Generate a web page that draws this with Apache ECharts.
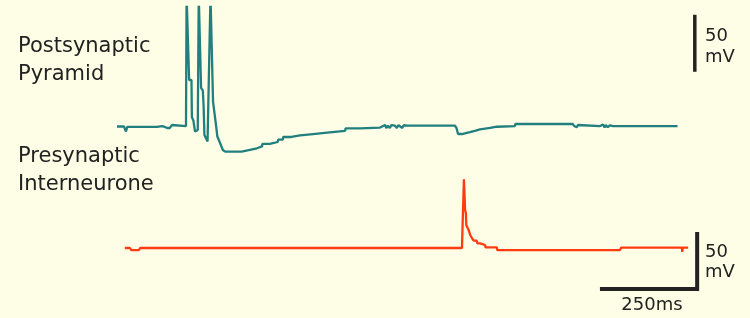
<!DOCTYPE html>
<html>
<head>
<meta charset="utf-8">
<script src="https://cdn.jsdelivr.net/npm/echarts@6/dist/echarts.min.js"></script>
<style>
  html, body { margin: 0; padding: 0; background: #fefee6; }
  #chart { width: 750px; height: 318px; }
</style>
</head>
<body>
<div id="chart"></div>
<script>
const pyramidTrace = [
  [0, -65], [18, -65], [20, -67.2], [23, -69.4], [26, -65.4], [102, -65.4], [103, -64.6],
  [115, -64.6], [117, -66.3], [120, -63.7], [122, -65.4], [125, -63.7], [128, -66.3],
  [130, -64.6], [135, -66.3], [140, -63.7], [143, -64.6], [176, -64.6],
  // three action potentials (clipped at the top)
  [177.5, 50], [182, 50], [184, -24.2], [190, -24.2], [191, -56.7], [195, -60], [199, -69.4],
  [202, -70.7], [204, -70.7], [206, -68.1],
  [208.5, 50], [213, 50], [214.5, -31.2], [219, -33.6], [221, -47.9], [223, -72.5],
  [231, -78.2], [236, -77.7],
  [238.5, 50], [243.5, 50], [245, -43.1], [250, -43.5], [253, -65], [256, -73.8],
  [260, -73.8], [263, -79.5], [267, -79.5], [270, -85.6], [274, -85.6], [276, -87.1],
  [318, -87.1], [319, -85.6], [339, -85.6], [340, -84.1], [357, -84.1], [358, -82.5],
  [370, -82.5], [371, -80.3], [390, -80.3], [391, -78.6], [410, -78.6], [411, -76.5],
  [423, -76.5], [424, -74.2], [445, -74.2], [446, -72.8], [467, -72.8], [468, -71.6],
  [500, -71.6], [501, -70.4], [536, -70.4], [537, -68.9], [582, -68.9], [583, -66.6],
  [620, -66.6], [621, -65.9], [671, -65.9], [672, -65.2],
  [684, -63.7], [687, -66.3], [691, -64.3], [696, -66.3], [700, -63.7], [709, -64.3],
  [714, -66.3], [718, -63.7], [722, -64.3], [727, -66.3], [732, -63.9], [740, -64.3],
  [862, -64.3], [866, -66.3], [870, -71.6], [880, -71.6], [882, -70.0], [900, -70.0],
  [901, -68.9], [913, -68.9], [914, -67.5], [926, -67.5], [927, -66.3], [952, -66.3],
  [953, -65.2], [969, -65.2], [970, -64.6], [1015, -64.6], [1016, -62.8],
  [1163, -62.8], [1166, -64.6], [1170, -63.2], [1173, -65.6], [1176, -63.7], [1181, -64.6],
  [1232, -64.6], [1236, -66.0], [1240, -63.4], [1244, -65.8], [1247, -63.6], [1252, -65.6],
  [1258, -63.9], [1265, -64.6], [1430, -64.6]
];

const interneuronTrace = [
  [20, -62], [33, -62], [36, -63.8], [56, -63.8], [59, -62], [880, -62],
  [882, -37.4], [884, -36.6], [885, -1.8], [887, -1.8], [888, -28.7], [890, -31.3],
  [891, -41.8], [896, -41.8], [897, -46.2], [900, -46.2], [901, -50.6], [905, -50.6],
  [906, -53.5], [909, -53.5], [910, -55.6], [918, -55.6], [919, -57.9], [926, -57.9],
  [927, -59.4], [939, -59.4], [940, -61.4], [969, -61.4], [970, -63.8], [1283, -63.8],
  [1286, -61.7], [1441, -61.7], [1442, -65.5], [1443, -61.7], [1457, -61.7]
];

// scale bars: 50 mV and 250 ms
const topScaleBar = [[1474, 33], [1474, -17]];
const bottomScaleBar = [[1232, -98], [1480, -98], [1480, -48]];

const traceColors = ['#217f80', '#ff3b0f'];
const ink = '#222222';

const chart = echarts.init(document.getElementById('chart'), null, { renderer: 'canvas' });

function label(text, x, y, size, align) {
  return {
    type: 'text',
    x: x,
    y: y,
    style: {
      text: text,
      font: size + 'px "DejaVu Sans"',
      fill: ink,
      textAlign: align || 'left',
      textVerticalAlign: 'middle'
    }
  };
}

chart.setOption({
  animation: false,
  backgroundColor: '#fefee6',
  grid: [
    { left: 117, top: 6.8, width: 588, height: 153.9 },
    { left: 117, top: 165.9, width: 588, height: 125.4 }
  ],
  xAxis: [
    { type: 'value', gridIndex: 0, min: 0, max: 1500, show: false },
    { type: 'value', gridIndex: 1, min: 0, max: 1500, show: false }
  ],
  yAxis: [
    { type: 'value', gridIndex: 0, min: -95, max: 40, show: false },
    { type: 'value', gridIndex: 1, min: -100, max: 10, show: false }
  ],
  series: [
    {
      type: 'line', xAxisIndex: 0, yAxisIndex: 0, data: pyramidTrace,
      showSymbol: false, clip: true,
      lineStyle: { color: traceColors[0], width: 2.3 }
    },
    {
      type: 'line', xAxisIndex: 1, yAxisIndex: 1, data: interneuronTrace,
      showSymbol: false, clip: true,
      lineStyle: { color: traceColors[1], width: 2.3 }
    },
    {
      type: 'line', xAxisIndex: 0, yAxisIndex: 0, data: topScaleBar,
      showSymbol: false, clip: false,
      lineStyle: { color: ink, width: 3.5, cap: 'butt' }
    },
    {
      type: 'line', xAxisIndex: 1, yAxisIndex: 1, data: bottomScaleBar,
      showSymbol: false, clip: false,
      lineStyle: { color: ink, width: 4, cap: 'butt', join: 'miter' }
    }
  ],
  graphic: [
    label('Postsynaptic', 18, 47, 21),
    label('Pyramid', 18, 75, 21),
    label('Presynaptic', 18, 157, 21),
    label('Interneurone', 18, 185, 21),
    label('50', 705, 36, 18),
    label('mV', 705, 57, 18),
    label('50', 705, 252, 18),
    label('mV', 705, 272, 18),
    label('250ms', 652, 305, 18, 'center')
  ]
});
</script>
</body>
</html>
